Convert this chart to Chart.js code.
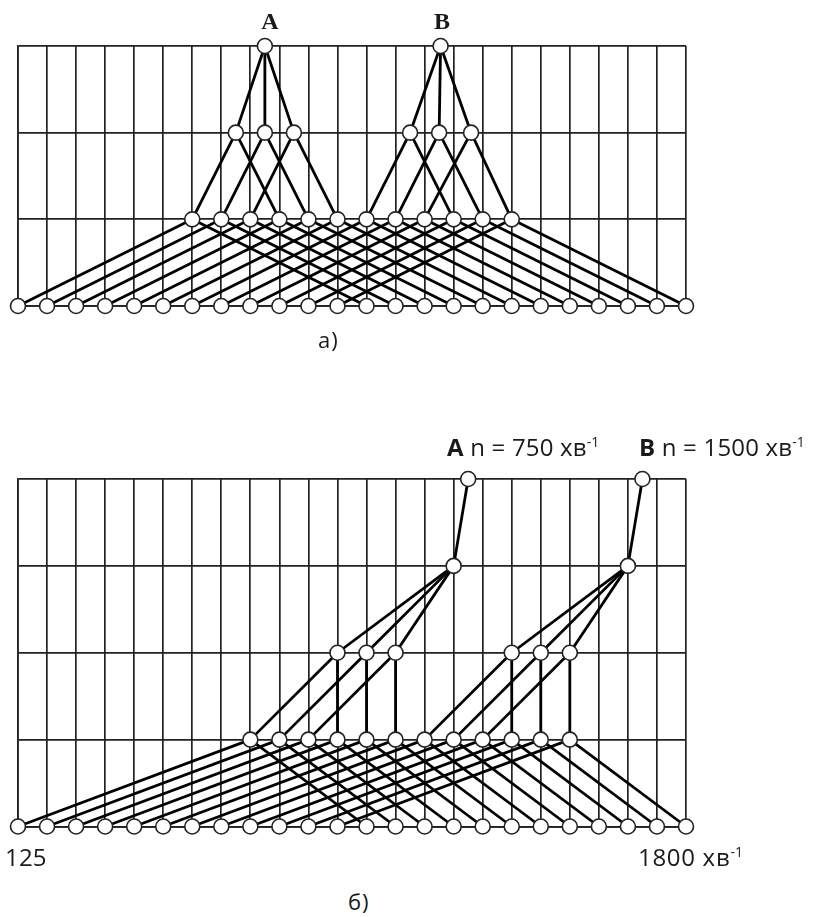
<!DOCTYPE html>
<html>
<head>
<meta charset="utf-8">
<script src="https://cdn.jsdelivr.net/npm/chart.js@4"></script>
<style>
  body{margin:0;background:#fff;width:820px;height:917px;position:relative;overflow:hidden;font-family:"Open Sans",sans-serif;color:#1a1a1a}
  canvas{position:absolute;left:0}
  .lbl{position:absolute;white-space:nowrap;line-height:1}
  .serif{font-family:"Liberation Serif",serif;font-weight:bold;font-size:24px;transform:translateX(-50%)}
  .sans{font-size:24px;letter-spacing:0.2px}
  .sans sup{font-size:14px;vertical-align:0;position:relative;top:-9px;letter-spacing:0}
</style>
</head>
<body>
<canvas id="chartA" width="820" height="340" style="top:0"></canvas>
<canvas id="chartB" width="820" height="440" style="top:430px"></canvas>

<div class="lbl serif" style="left:270px;top:9px">A</div>
<div class="lbl serif" style="left:442px;top:9px">B</div>
<div class="lbl sans" style="left:318px;top:328px;font-size:22px;letter-spacing:1px">а)</div>

<div class="lbl sans" style="left:447px;top:435px"><b>A</b> n = 750 хв<sup>-1</sup></div>
<div class="lbl sans" style="left:639px;top:435px"><b>B</b> n = 1500 хв<sup>-1</sup></div>
<div class="lbl sans" style="left:5px;top:845px">125</div>
<div class="lbl sans" style="left:638px;top:845px;letter-spacing:0.7px">1800 хв<sup>-1</sup></div>
<div class="lbl sans" style="left:348px;top:890px;font-size:22px;letter-spacing:1px">б)</div>

<script>
// ---------------------
// диаграма а) — рівні валів (x = номер швидкості)
// ---------------------
const aInput  = [8.5, 14.55];                         // A, B
const aGroup1 = [7.5, 8.5, 9.5, 13.5, 14.5, 15.6];
const aGroup2 = [6, 7, 8, 9, 10, 11, 12, 13, 14, 15, 16, 17];
const aOutput = [0, 1, 2, 3, 4, 5, 6, 7, 8, 9, 10, 11, 12, 13, 14, 15, 16, 17, 18, 19, 20, 21, 22, 23];
// зв'язки: [індекс зверху, індекс знизу]
const aLinks1 = [[0,0],[0,1],[0,2],[1,3],[1,4],[1,5]];
const aLinks2 = [[0,0],[0,3],[1,1],[1,4],[2,2],[2,5],[3,6],[3,9],[4,7],[4,10],[5,8],[5,11]];
const aLinks3 = [[0,0],[0,12],[1,1],[1,13],[2,2],[2,14],[3,3],[3,15],[4,4],[4,16],[5,5],[5,17],
                 [6,6],[6,18],[7,7],[7,19],[8,8],[8,20],[9,9],[9,21],[10,10],[10,22],[11,11],[11,23]];

// ---------------------
// диаграма б)
// ---------------------
const bInput  = [15.5, 21.5];                         // A 750, B 1500
const bShaft  = [15, 21];
const bGroup1 = [11, 12, 13, 17, 18, 19];
const bGroup2 = [8, 9, 10, 11, 12, 13, 14, 15, 16, 17, 18, 19];
const bOutput = [0, 1, 2, 3, 4, 5, 6, 7, 8, 9, 10, 11, 12, 13, 14, 15, 16, 17, 18, 19, 20, 21, 22, 23];
const bLinks1 = [[0,0],[1,1]];
const bLinks2 = [[0,0],[0,1],[0,2],[1,3],[1,4],[1,5]];
const bLinks3 = [[0,0],[0,3],[1,1],[1,4],[2,2],[2,5],[3,6],[3,9],[4,7],[4,10],[5,8],[5,11]];
const bLinks4 = [[0,0],[0,12],[1,1],[1,13],[2,2],[2,14],[3,3],[3,15],[4,4],[4,16],[5,5],[5,17],
                 [6,6],[6,18],[7,7],[7,19],[8,8],[8,20],[9,9],[9,21],[10,10],[10,22],[11,11],[11,23]];

// ---------------------
// побудова наборів даних
// ---------------------
function buildDatasets(levels, links){
  const sets = [];
  // вузли — першим, щоб були зверху
  const nodes = [];
  levels.forEach((row, i)=>{
    const y = levels.length - 1 - i;
    row.forEach(x=>nodes.push({x, y}));
  });
  sets.push({
    data: nodes, showLine:false, pointRadius:7.5, pointHoverRadius:7.5,
    pointBackgroundColor:"#fff", pointBorderColor:"#222", pointBorderWidth:1.6, clip:false
  });
  links.forEach((pairs, i)=>{
    const yTop = levels.length - 1 - i;
    pairs.forEach(([a,b])=>{
      sets.push({
        data:[{x:levels[i][a], y:yTop}, {x:levels[i+1][b], y:yTop-1}],
        showLine:true, pointRadius:0, borderColor:"#000", borderWidth:2.8, clip:false
      });
    });
  });
  return sets;
}

function makeChart(id, levels, links, pad){
  const gridOpts = {color:"#222", lineWidth:1.7, drawTicks:false};
  const borderOpts = {display:true, color:"#222", width:1.7};
  return new Chart(document.getElementById(id), {
    type:"scatter",
    data:{datasets:buildDatasets(levels, links)},
    options:{
      responsive:false, animation:false, events:[],
      layout:{padding:pad, autoPadding:false},
      plugins:{legend:{display:false}, tooltip:{enabled:false}},
      scales:{
        x:{type:"linear", min:0, max:aOutput.length-1, ticks:{display:false, stepSize:1}, grid:gridOpts, border:borderOpts},
        y:{type:"linear", min:0, max:levels.length-1, ticks:{display:false, stepSize:1}, grid:gridOpts, border:borderOpts}
      }
    }
  });
}

makeChart("chartA", [aInput, aGroup1, aGroup2, aOutput], [aLinks1, aLinks2, aLinks3],
  {left:18, right:134, top:46, bottom:34});
makeChart("chartB", [bInput, bShaft, bGroup1, bGroup2, bOutput], [bLinks1, bLinks2, bLinks3, bLinks4],
  {left:18, right:134, top:49, bottom:43.5});
</script>
</body>
</html>
